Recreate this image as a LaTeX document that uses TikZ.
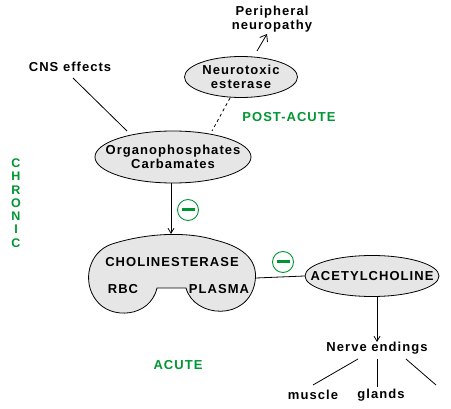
\documentclass[tikz,border=0pt]{standalone}
\usepackage{fontspec}
\setmainfont{Liberation Sans}[LetterSpace=8]
\usetikzlibrary{shapes.geometric,arrows.meta}
\definecolor{grn}{RGB}{0,150,50}
\definecolor{fillg}{RGB}{230,230,230}
\tikzset{
  lbl/.style={font=\bfseries\fontsize{13}{14}\selectfont, align=center, inner sep=0pt},
  glbl/.style={lbl, text=grn},
  oval/.style={ellipse, draw, fill=fillg, line width=0.8pt, inner sep=0pt},
  conn/.style={line width=0.8pt},
  arr/.style={conn, -{Straight Barb[length=5pt,width=6pt]}},
  bigarr/.style={conn, -{Straight Barb[length=6pt,width=9pt]}},
  minus/.style={circle, draw=grn, line width=0.9pt, minimum size=21pt, inner sep=0pt}
}
\begin{document}
\begin{tikzpicture}[x=1pt,y=-1pt]
\useasboundingbox (0,0) rectangle (451,409);
% nodes
\node[lbl] (pn) at (272,19) {Peripheral\\neuropathy};
\node[lbl] (cns) at (70,67) {CNS effects};
\node[oval, minimum width=113pt, minimum height=41pt] (ne) at (241,77) {};
\node[lbl] at (ne.center) {Neurotoxic\\esterase};
\node[glbl] (post) at (289,117) {POST-ACUTE};
\node[oval, minimum width=156pt, minimum height=52pt] (op) at (173,157) {};
\node[lbl] at (op.center) {Organophosphates\\Carbamates};
\node[glbl, align=center, font=\bfseries\fontsize{12.5}{13.3}\selectfont] (chr) at (16,203) {C\\H\\R\\O\\N\\I\\C};
% cholinesterase shape
\draw[line width=0.8pt, fill=fillg] (157,288) -- (186,288)
  .. controls (194,318) and (248,322) .. (255,282)
  .. controls (259,258) and (240,246) .. (215,240)
  .. controls (190,232) and (150,232) .. (112,244)
  .. controls (88,252) and (82,282) .. (96,300)
  .. controls (110,320) and (150,318) .. (157,288) -- cycle;
\coordinate (chtop) at (171,234);
\coordinate (chright) at (256,278);
\node[lbl] (che) at (172,262) {CHOLINESTERASE};
\node[lbl] (rbc) at (123,289) {RBC};
\node[lbl] (pl) at (219,289) {PLASMA};
\node[oval, minimum width=134pt, minimum height=41pt] (ach) at (372,276) {};
\node[lbl] at (ach.center) {ACETYLCHOLINE};
\node[lbl] (nerve) at (377,348) {Nerve endings};
\node[lbl] (mus) at (313,395) {muscle};
\node[lbl] (gl) at (381,395) {glands};
\coordinate (third) at (436,385);
\node[glbl] (acute) at (178,365) {ACUTE};
% minus signs
\node[minus] (m1) at (188,210) {};
\draw[grn, line width=3pt] ([xshift=-6.5pt]m1.center) -- ([xshift=6.5pt]m1.center);
\node[minus] (m2) at (283,262) {};
\draw[grn, line width=3pt] ([xshift=-6.5pt]m2.center) -- ([xshift=6.5pt]m2.center);
% connectors
\draw[bigarr] (257,51) -- (267,34);
\draw[conn] (73,78) -- (127,131);
\draw[conn, dashed] (230,98) -- (212,131);
\draw[arr] (171,183) -- (chtop);
\draw[conn] (chright) -- (ach.west);
\draw[arr] (377,297) -- (377,342);
\draw[conn] (358,359) -- (313,385);
\draw[conn] (377,359) -- (377,387);
\draw[conn] (406,359) -- (third);
\end{tikzpicture}
\end{document}
